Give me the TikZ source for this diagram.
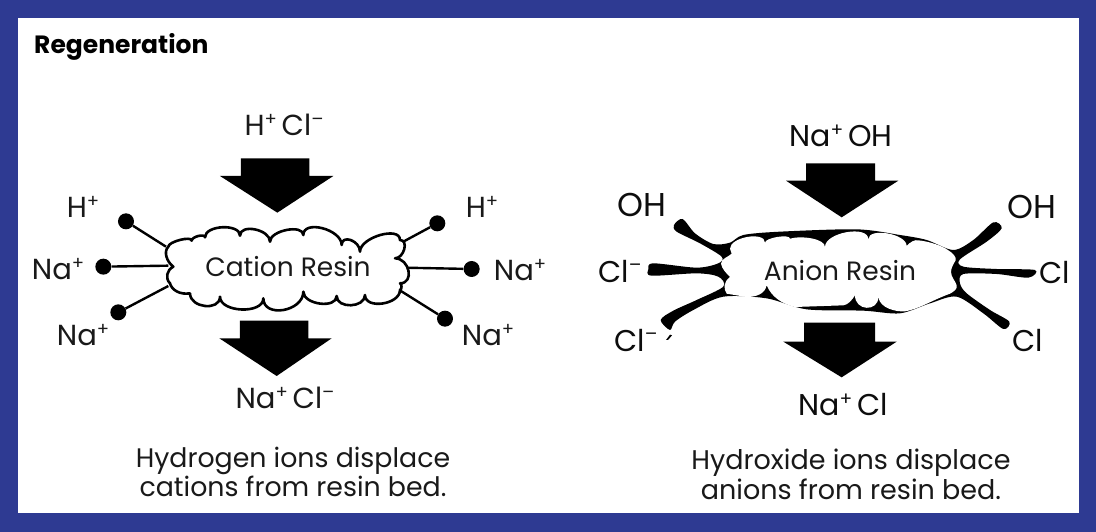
\documentclass[tikz,border=0pt]{standalone}
\usepackage{fontspec}
\setmainfont{Poppins}
\definecolor{frameblue}{HTML}{2E3A92}
\newcommand\ionup[1]{\raisebox{0.62ex}{\scalebox{.62}{#1}}}
\tikzset{
  lab/.style={inner sep=0pt,font=\fontsize{29}{29}\selectfont,text=black!90},
  labb/.style={inner sep=0pt,font=\fontsize{30}{30}\selectfont,text=black!95},
  labo/.style={inner sep=0pt,font=\fontsize{33}{33}\selectfont,text=black!95},
  captxt/.style={inner sep=0pt,font=\fontsize{26.8}{29}\selectfont,text=black!90,align=center},
  res/.style={inner sep=0pt,font=\fontsize{26.5}{26.5}\selectfont,text=black!90},
  iondot/.style={circle,fill=black,inner sep=0pt,minimum size=16pt},
  bond/.style={line width=2.4pt},
  resincloud/.style={draw=black,fill=white,line width=2.6pt,line join=round},
  blockarrow/.style={fill=black,line join=round}
}
\begin{document}
\begin{tikzpicture}[x=1pt,y=-1pt]
\useasboundingbox (0,0) rectangle (1096,532);
\fill[frameblue] (0,0) rectangle (1096,532);
\fill[white] (18,18) rectangle (1079,513);
\node[inner sep=0pt,anchor=west,font=\fontsize{25}{25}\selectfont\bfseries] (title) at (34,47) {Regeneration};
% Cation side
\begin{scope}[shift={(20,100)},x=1/3pt,y=-1/3pt]
\fill[blockarrow] (663,175)--(868,175)--(868,228)--(940,228)--(772,338)--(600,228)--(663,228)--cycle;
\fill[blockarrow] (660,662)--(865,662)--(865,715)--(935,715)--(770,828)--(598,715)--(660,715)--cycle;
\node[iondot] (d1) at (318,364) {};
\node[iondot] (d2) at (250,500) {};
\node[iondot] (d3) at (295,637) {};
\node[iondot] (d4) at (1252,370) {};
\node[iondot] (d5) at (1355,507) {};
\node[iondot] (d6) at (1275,656) {};
\coordinate (c1) at (438,440);
\coordinate (c2) at (445,497);
\coordinate (c3) at (445,558);
\coordinate (c4) at (1135,433);
\coordinate (c5) at (1150,503);
\coordinate (c6) at (1130,565);
\draw[bond] (d1)--(c1); \draw[bond] (d2)--(c2); \draw[bond] (d3)--(c3);
\draw[bond] (d4)--(c4); \draw[bond] (d5)--(c5); \draw[bond] (d6)--(c6);
\end{scope}
\begin{scope}[shift={(160,220)},x=1/3pt,y=-1/3pt]
\draw[resincloud] (25,80)
 .. controls (25,65) and (95,47) .. (95,62)
 .. controls (95,50) and (135,40) .. (135,52)
 .. controls (135,15) and (240,10) .. (240,47)
 .. controls (240,10) and (330,28) .. (330,65)
 .. controls (330,31) and (430,12) .. (430,45)
 .. controls (430,-2) and (545,28) .. (545,75)
 .. controls (545,42) and (600,62) .. (600,95)
 .. controls (600,52) and (720,17) .. (720,60)
 .. controls (747,60) and (732,115) .. (705,115)
 .. controls (749,115) and (764,190) .. (720,190)
 .. controls (726,190) and (726,210) .. (720,210)
 .. controls (720,254) and (615,269) .. (615,225)
 .. controls (615,264) and (530,267) .. (530,228)
 .. controls (530,267) and (430,254) .. (430,215)
 .. controls (430,275) and (310,295) .. (310,235)
 .. controls (310,283) and (180,278) .. (180,230)
 .. controls (180,274) and (90,264) .. (90,220)
 .. controls (60,225) and (35,210) .. (30,190)
 .. controls (15,175) and (20,150) .. (40,140)
 .. controls (20,125) and (10,95) .. (25,80) -- cycle;
\end{scope}
\node[lab] (hcl) at (284,125) {H\ionup{+}\,Cl\ionup{–}};
\node[lab] (h1) at (83,207) {H\ionup{+}};
\node[lab] (na1) at (58,269) {Na\ionup{+}};
\node[lab] (na2) at (83,335) {Na\ionup{+}};
\node[lab] (h2) at (482,207) {H\ionup{+}};
\node[lab] (na3) at (520,270) {Na\ionup{+}};
\node[lab] (na4) at (488,335) {Na\ionup{+}};
\node[res] (cr) at (288,267) {Cation Resin};
\node[lab] (nacl1) at (285,398) {Na\ionup{+}\,Cl\ionup{–}};
\node[captxt] (c1t) at (293,472) {Hydrogen ions displace\\cations from resin bed.};
% Anion side
\begin{scope}[shift={(580,100)},x=1/3pt,y=-1/3pt]
\fill[blockarrow] (678,190)--(885,190)--(885,242)--(955,242)--(785,352)--(618,242)--(678,242)--cycle;
\fill[blockarrow] (672,668)--(885,668)--(885,725)--(950,725)--(785,832)--(610,725)--(672,725)--cycle;
\fill[black] plot[smooth cycle,tension=0.5] coordinates {
 (282,375) (308,357) (345,400) (400,432) (450,428) (490,405) (600,395) (830,388) (960,405) (1040,420) (1120,450)
 (1180,420) (1240,367) (1265,385) (1220,425) (1140,478) (1150,500) (1250,507) (1365,510) (1345,533) (1250,522) (1150,522)
 (1140,550) (1160,580) (1230,630) (1288,665) (1270,687) (1210,640) (1130,590) (1050,610) (960,640) (850,632) (680,628)
 (560,595) (430,590) (340,630) (285,665) (270,690) (242,660) (280,632) (350,600) (430,560) (415,530) (350,520)
 (215,527) (205,508) (220,490) (350,503) (415,490) (425,470) (360,430) (290,395)};
\fill[black] (258,720)--(270,704)--(276,706)--(264,720)--cycle;
\end{scope}
\begin{scope}[shift={(715,222)},x=1/3pt,y=-1/3pt]
\fill[white] (45,80)
 .. controls (45,45) and (150,27) .. (150,62)
 .. controls (150,47) and (225,35) .. (225,50)
 .. controls (260,40) and (330,50) .. (330,75)
 .. controls (330,31) and (460,8) .. (460,52)
 .. controls (460,15) and (575,35) .. (575,72)
 .. controls (585,60) and (600,52) .. (610,55)
 .. controls (640,58) and (680,70) .. (700,85)
 .. controls (712,92) and (725,105) .. (722,115)
 .. controls (716,125) and (708,138) .. (708,150)
 .. controls (708,165) and (722,178) .. (725,190)
 .. controls (728,200) and (718,208) .. (705,215)
 .. controls (650,235) and (610,262) .. (570,268)
 .. controls (545,270) and (495,260) .. (490,225)
 .. controls (490,270) and (420,268) .. (420,220)
 .. controls (410,235) and (400,248) .. (385,250)
 -- (240,255)
 .. controls (200,245) and (170,225) .. (155,190)
 .. controls (150,215) and (125,225) .. (95,225)
 -- (35,215)
 .. controls (25,200) and (25,180) .. (45,165)
 .. controls (35,155) and (20,140) .. (18,125)
 .. controls (18,110) and (40,105) .. (50,95)
 -- cycle;
\end{scope}
\node[labb] (naoh) at (841,136) {Na\ionup{+}\,OH};
\node[labo] (oh1) at (642,205) {OH};
\node[labb] (cl1) at (620,271) {Cl\ionup{–}};
\node[labb] (cl2) at (636,340) {Cl\ionup{–}};
\node[labo] (oh2) at (1032,207) {OH};
\node[labb] (cl3) at (1055,272) {Cl};
\node[labb] (cl4) at (1028,340) {Cl};
\node[res] (ar) at (840,271) {Anion Resin};
\node[labb] (nacl2) at (843,405) {Na\ionup{+}\,Cl};
\node[captxt,font=\fontsize{27}{30}\selectfont] (c2t) at (851,474) {Hydroxide ions displace\\anions from resin bed.};
\end{tikzpicture}
\end{document}
